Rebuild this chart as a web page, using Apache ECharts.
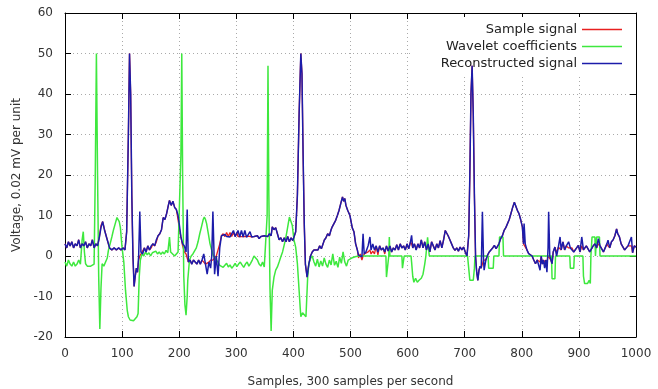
<!DOCTYPE html>
<html>
<head>
<meta charset="utf-8">
<script src="https://cdn.jsdelivr.net/npm/echarts@6/dist/echarts.min.js"></script>
<style>html,body{margin:0;padding:0;background:#fff;}#chart{width:658px;height:389px;}</style>
</head>
<body>
<div id="chart"></div>
<script>
var seriesNames = ['Sample signal', 'Wavelet coefficients', 'Reconstructed signal'];
var xTicks = [0,100,200,300,400,500,600,700,800,900,1000];
var yTicks = [-20,-10,0,10,20,30,40,50,60];

var sigX = [0,3,6,9,12,15,18,21,24,27,30,33,36,39,42,45,48,51,54,57,60,63,66,69,72,75,78,82,86,90,94,98,102,105,108,111,113,115,117,119,121,123,125,127,129,131,133,136,139,142,145,148,151,154,157,160,163,166,169,172,175,178,181,183,186,189,192,195,198,200,203,206,209,212,214,216,219,222,225,228,231,234,237,240,243,246,249,252,255,257,259,262,265,268,271,274,277,280,283,286,289,292,295,298,301,303,306,309,312,315,318,321,324,327,331,334,337,340,343,346,349,352,355,358,361,363,366,369,372,375,378,381,384,387,390,393,396,399,402,404,407,410,413,415,417,419,421,424,427,430,433,436,439,443,446,449,452,454,457,460,463,466,468,471,474,477,480,483,486,488,490,492,495,499,503,506,509,512,514,517,520,522,524,527,531,534,536,539,542,545,548,551,554,557,560,563,566,569,572,575,578,581,584,587,590,593,596,599,602,605,607,609,612,615,618,621,624,627,630,633,636,639,642,645,648,651,654,657,660,663,666,668,671,674,677,680,683,686,689,692,695,698,701,704,707,709,711,713,715,717,719,721,723,725,727,729,731,733,734,737,740,743,746,749,752,755,757,760,763,766,769,772,775,778,781,784,787,789,791,793,795,798,801,803,804,806,809,812,815,818,821,824,827,829,832,834,836,838,840,842,844,846,847,849,851,853,855,858,861,864,867,869,872,875,878,882,885,888,891,893,896,899,902,905,908,910,913,916,919,922,925,928,931,934,937,940,943,946,949,951,954,957,960,963,966,968,971,974,977,980,983,986,989,992,994,997,1000];

var reconY = [3,2,3.5,2.5,3.5,2,3,2.5,4,2,3,2.5,3.5,2,3,2.5,4,2,3,2.5,4.5,7,8.5,6.5,5,3.5,2,1.5,2,1.5,2,1.5,2,1.5,6,30,50,40,15,0,-7.5,-5,-3,-4,0,11,1,0.5,2,1,2.5,1.5,2.5,3,2.5,4,5,5.5,6.5,9.5,9,10.5,12.5,13.7,12.5,13.5,12,11.5,10,8,4.7,3,2.5,1,11.5,-1.5,-1,-2,-1,-1.5,-2,-1,-2,-1,0.5,-2,-4.5,-1.5,-3,0,11,-4.5,0,-5,2,5,4.8,5.3,4.8,5.2,4.7,4.8,6.3,4.8,4.6,6.3,4.7,6.3,4.7,6.3,4.6,4.9,6,4.7,4.8,4.5,5,4.3,4.8,4.5,5,4.6,4.8,5.5,5,7.2,6.5,7,5.5,4,4.5,3.5,4.5,3.5,4.8,3.5,4.5,3.8,4,6,15,35,50,45,25,8,-2,-5.2,-2,0,1,1.5,1.8,1.5,2.5,1.8,3,3.9,4.5,5.5,5,6.5,7.2,8,8.8,10,11.3,13,14.6,13.5,14.2,12.5,11.3,10,7,6,3,1.5,0.2,0.5,-0.2,5.5,0.5,1,2.6,4.7,1.5,3,1.5,2.5,1,2.5,1.5,2,1,2.5,1.2,2.5,1,2,1.5,2.8,1.5,3,2,2.5,1.5,3,1.8,3.5,5.1,2,3,1.5,3,2,4,2,3.5,1.5,3,1,3.5,2.5,1.5,3,2,3.8,2,4,6.3,6.7,5,4,3,2,1.4,2,1.2,2.2,1.5,2.2,1,0,5,20,40,47,35,15,0,-4,-6,-3.5,-2.5,-3,10.9,-1,-3.5,-1,0.2,1,1.4,2,2.6,1.8,2.2,3,4.3,5,6.3,7,8,9,10.5,12,13.3,12.5,12.1,11,10.5,9,7.2,3,8,3,1.5,0.6,1,0,-1,-1.9,-1,-1.2,-3.5,0,-2,-1,-3,-1,-4,2,10.9,0,-1,-1.9,1,2.2,0,2.2,4.7,1.5,3.5,1.5,2.5,3.5,2,2,1,0.8,2,2.6,1,4.7,1.5,1.4,2.5,2.2,1,1.4,2.5,3,2,4.3,2.5,2.2,1,1.4,3,3.9,2,3.5,4,5,6.7,5.5,4.7,3,3,1.5,1.4,2.5,2.6,4.7,0.8,2.5,2.2];

var sampleY = [3,2,3.5,2.5,3.5,2,3,2.5,4,2,3,2.5,3.5,2,3,2.5,4,2,3,2.5,4.5,7.5,8.5,6.7,5,3.5,2,1.5,2,1.5,2,1.5,2,1.5,6,30,50,40,15,0,-7.5,-5,-3,-4,-1,0,0.5,0.5,2,1,2.5,1.5,2,3,2.5,3.5,5,5.5,6.5,9.5,9,10.5,12.5,13.7,12.5,13.5,12,11.5,9,7,4.7,2.5,1,0.5,-0.5,-1.5,-1,-2,-1,-1.5,-2,-1,-2,-1,-1,-2,-2,-1.5,-1,-1,-1,-1,0,0,3,5,5.5,4.8,5.8,4.8,5.8,4.8,5.8,4.8,5.8,4.8,4.7,4.8,4.7,4.8,4.6,4.9,4.8,4.7,4.8,4.5,5,4.3,4.8,4.5,5,4.6,4.8,5.5,5,7.2,6.5,7,5.5,4,4.5,3.5,4.5,3.5,4.8,3.5,4.5,3.8,4,6,15,35,50,45,25,8,-2,-5.2,-2,0,1,1.5,1.8,1.5,2.5,1.8,3,3.9,4.5,5.5,5,6.5,7.2,8,8.8,10,11.3,13,14.6,13.5,14.2,12.5,11.3,10,7,6,3,1.5,-0.5,0.5,-1,0,0.5,0.3,1,1.5,0.5,1.2,0.5,2.5,0.3,2.5,1.5,2,0.5,2.5,1.2,2.5,1,2,1.5,2.8,1.5,3,2,2.5,1.5,3,1.8,3.5,3,2,3,1.5,3,2,4,2,3.5,1.5,3,1,3.5,2.5,1.5,3,2,3.8,2,4,6.3,6.7,5,4,3,2,1.4,2,1.2,2.2,1.5,2.2,1,0,5,20,40,47,35,15,0,-4,-6,-3.5,-2.5,-3,-2,-1,-1,-1,0.2,1,1.4,2,2.6,1.8,2.2,3,4.3,5,6.3,7,8,9,10.5,12,13.3,12.5,12.1,11,10.5,9,7.2,3,3,3,1.5,0.6,1,0,-1,-1.9,-1,-1.2,-1.5,0,-2,-1,-1.5,-1,-1.5,0,0,0,-1,-1.9,1,2.2,0.8,2.2,2.5,1.5,3.5,1.5,2.5,2,2,2,1,0.8,2,2.6,1,2.5,1.5,1.4,2.5,2.2,1,1.4,2.5,3,2,3,2.5,2.2,1,1.4,3,2.5,2,3.5,4,5,6.7,5.5,4.7,3,3,1.5,1.4,2.5,2.6,2.5,0.8,2.5,2.2];

var waveX = [0,3,6,9,12,15,18,21,24,27,30,32,34,36,39,42,45,48,51,53,55,57,59,61,63,65,68,71,74,76,79,82,85,88,91,93,95,97,100,103,106,109,111,114,117,120,123,126,128,130,132,135,138,141,144,147,150,153,156,159,162,165,168,171,174,177,180,183,185,188,192,195,198,201,203,204.5,206,208,210,212,214,215,218,221,224,227,230,233,236,239,242,244,246,248,251,254,257,260,262,265,268,271,274,277,280,283,286,289,292,295,298,301,304,307,310,313,316,319,322,325,328,331,334,337,340,343,346,349,352,354,355.5,357,359,361,363,366,369,372,375,378,381,383,386,389,391,393,395,398,401,404,407,410,412,413,416,419,422,425,427,430,433,436,439,442,445,448,451,454,457,460,463,466,469,472,475,478,481,484,487,490,493,496,499,502,505,508,511,514,562,563,566,567,568,569,590,591,593,594,606,607,609,611,614,617,620,624,627,630,632,634,635,637,638,705,707,709,712,715,717,718,741,742,750,751,760,761,767,768,852,853,858,859,884,885,891,892,907,908,910,915,918,920,921,923,928,929,931,936,937,1000];
var waveY = [-1.5,-2.5,-1,-2,-2.5,-1.5,-2.5,-2,-1,-2,4,6,1,-1.9,-2.5,-2.7,-2.5,-2.8,-2,20,50,20,-5,-18,-8,-1.9,-2.5,-2.3,-0.5,1.4,3,4.7,6.5,8,9.5,9.6,8.5,7,2,-1.5,-8.5,-13.4,-15,-15.8,-15.9,-16,-15.8,-15,-14.2,-5.2,-1,0.6,0,1,0.3,0.8,0,0.8,0.5,1.2,0.5,1,0.4,1,0.5,1.4,0.8,4.7,1,0.6,0,0.4,1,1,25,50,20,-5,-12,-14.6,-10,-6,-1,0,0.5,0.6,2,3.5,5.5,7.2,9,9.6,9,8,5.5,3,1.4,0,-0.2,-1,-1.5,-2.3,-2,-2.8,-2.5,-1.8,-2.7,-2.2,-3,-2.5,-1.8,-2.6,-2,-1.5,-2.2,-2.8,-2,-1.5,-2.5,-1.8,-1,0,-0.5,-1,-2,-2.5,-1.5,-2.7,-2.7,10,47,15,-8,-18.5,-8.5,-5.2,-3.5,-2.7,-1.5,-0.2,1,2.2,4,6.3,8,9.6,9.2,7.6,4,2.2,-1.9,-8.5,-13,-15,-14,-14.2,-15,-5.2,-1.9,-0.6,0,-1.5,-2.5,-0.8,-2.7,-1.2,-2.5,-0.5,-2,-2.8,-1,-2.2,0.5,-2.3,-1.3,-2.8,-0.3,-1.8,1,-1.5,-2.5,-1,-1,-0.5,-0.8,-0.2,-0.5,0,0,-5.2,-5.2,0,4.7,0,0,-3,-3,0,0,-1.5,-5,-6.5,-5.5,-6.5,-6,-5.5,-4.5,-2,0,0,4.6,4.6,0,0,-3,-6,-6,-6,-3,0,0,-3,-3,0,0,4.7,4.7,0,0,-5.6,-5.6,0,0,-3,-3,0,0,-5,-6.8,-6.8,-6,-6.8,0,4.7,4.7,0,4.7,4.7,0,0];

function zip(xs, ys){ var out=[]; for(var i=0;i<xs.length;i++){ out.push([xs[i], ys[i]]); } return out; }

var chart = echarts.init(document.getElementById('chart'), null, {renderer:'canvas'});
var font = 'DejaVu Sans';
var txt = '#333';
var tickCommon = {show:true, inside:true, length:6, lineStyle:{color:'#000', width:1}};
var lineCommon = {show:true, onZero:false, lineStyle:{color:'#000', width:1}};
chart.setOption({
  animation:false,
  backgroundColor:'#fff',
  textStyle:{fontFamily:font},
  grid:{left:65, width:571, top:13, height:324, containLabel:false, outerBoundsMode:'none'},
  legend:{
    data:seriesNames,
    orient:'vertical', right:22, top:17, align:'right',
    backgroundColor:'#fff', z:1,
    padding:[6,14,6,30], itemGap:4,
    icon:'rect', itemWidth:40, itemHeight:1.5,
    textStyle:{fontFamily:font, fontSize:13, color:'#222'}
  },
  xAxis:[{
    type:'value', min:0, max:1000, interval:100,
    name:'Samples, 300 samples per second', nameLocation:'middle', nameGap:39,
    nameTextStyle:{fontFamily:font, fontSize:12, color:txt},
    axisLine:lineCommon,
    axisTick:tickCommon,
    axisLabel:{fontFamily:font, fontSize:12, color:txt, margin:11, formatter:function(v){return xTicks.indexOf(v)>=0? String(v):'';}},
    splitLine:{show:true, lineStyle:{color:'#aaa', type:[1,3], width:1}}
  },{
    type:'value', min:0, max:1000, interval:100, position:'top',
    axisLine:lineCommon,
    axisTick:tickCommon, axisLabel:{show:false}, splitLine:{show:false}
  }],
  yAxis:[{
    type:'value', min:-20, max:60, interval:10,
    name:'Voltage, 0.02 mV per unit', nameLocation:'middle', nameGap:37, nameRotate:90,
    nameTextStyle:{fontFamily:font, fontSize:12, color:txt},
    axisLine:lineCommon,
    axisTick:tickCommon,
    axisLabel:{fontFamily:font, fontSize:12, color:txt, margin:12, formatter:function(v){return yTicks.indexOf(v)>=0? String(v):'';}},
    splitLine:{show:true, lineStyle:{color:'#aaa', type:[1,3], width:1}}
  },{
    type:'value', min:-20, max:60, interval:10, position:'right',
    axisLine:lineCommon,
    axisTick:tickCommon, axisLabel:{show:false}, splitLine:{show:false}
  }],
  series:[
    {name:seriesNames[0], type:'line', data:zip(sigX, sampleY), showSymbol:false, symbol:'none', z:2,
     lineStyle:{color:'#e82020', width:1.3}, itemStyle:{color:'#e82020'}},
    {name:seriesNames[1], type:'line', data:zip(waveX, waveY), showSymbol:false, symbol:'none', z:3,
     lineStyle:{color:'#3ee83e', width:1.5}, itemStyle:{color:'#3ee83e'}},
    {name:seriesNames[2], type:'line', data:zip(sigX, reconY), showSymbol:false, symbol:'none', z:4,
     lineStyle:{color:'#1c1caa', width:1.5}, itemStyle:{color:'#1c1caa'}}
  ]
});
</script>
</body>
</html>
